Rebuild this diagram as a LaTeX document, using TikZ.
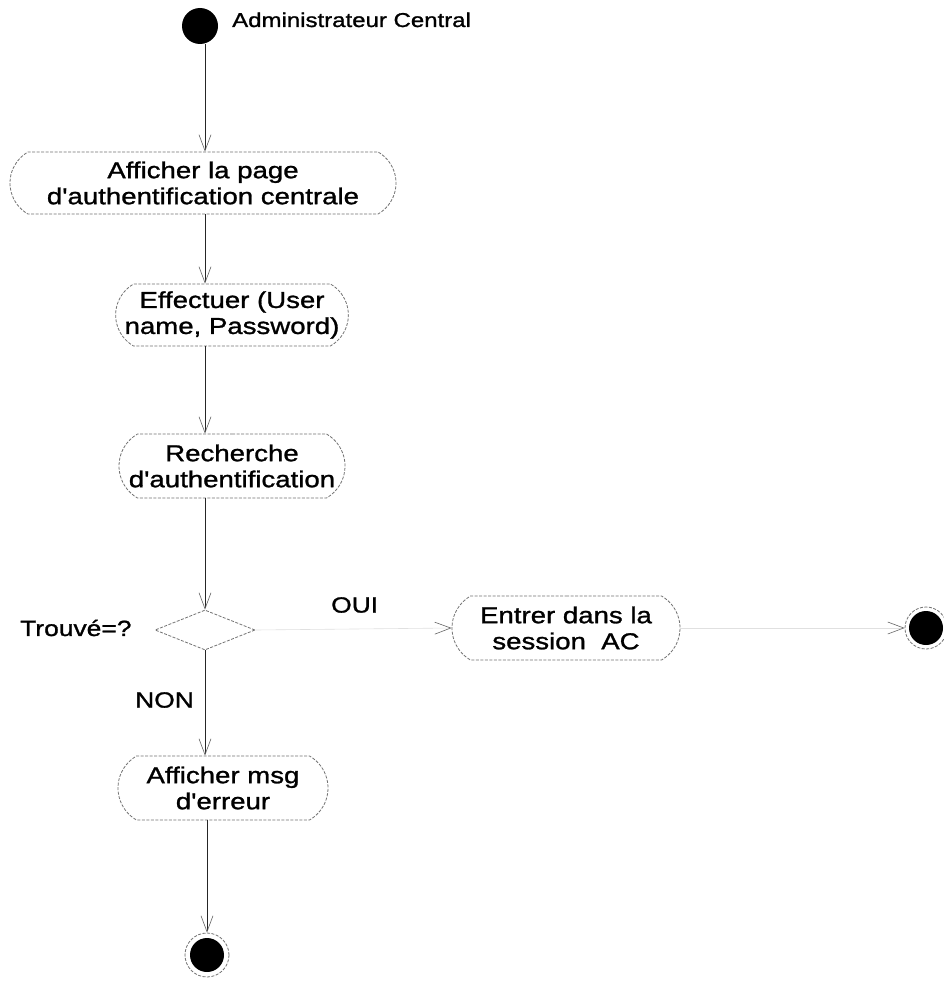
\documentclass[tikz,border=0pt]{standalone}
\usepackage{fontspec}
\setmainfont{Liberation Sans}[FakeStretch=1.2,FakeBold=1.2,Ligatures=TeXOff]
\usetikzlibrary{arrows.meta,shapes.misc,shapes.geometric}
\begin{document}
\begin{tikzpicture}[x=1pt,y=-1pt,
  act/.style={rounded rectangle, rounded rectangle arc length=120, draw=black!55,
    dash pattern=on 3pt off 1.5pt, line width=0.8pt, align=center, inner sep=0pt,
    font=\fontsize{23}{26}\selectfont, text=black},
  flow/.style={draw=black!85, line width=0.9pt,
    -{Straight Barb[length=16pt,width=12pt,line width=0.6pt,color=black!60]}},
  faint/.style={draw=black!12, line width=0.6pt,
    -{Straight Barb[length=16pt,width=12pt,line width=0.6pt,color=black!60]}},
  lbl/.style={font=\fontsize{22}{24}\selectfont, inner sep=0pt},
  finalst/.style={circle, draw=black!55, dash pattern=on 3pt off 1.5pt, line width=0.8pt,
    minimum size=42pt, inner sep=0pt}
]
\useasboundingbox (0,0) rectangle (943,990);
\fill[white] (0,0) rectangle (943,990);

\coordinate (vx) at (205,0);

% initial state
\node[circle, fill=black, minimum size=36pt, inner sep=0pt] (init) at (200,26) {};
\node[lbl, anchor=base west, font=\fontsize{20}{22}\selectfont] (actor) at (232,27) {Administrateur Central};

% activities
\node[act, minimum width=386pt, minimum height=62pt] (a1) at (203,183)
  {Afficher la page\\d'authentification centrale};
\node[act, minimum width=226pt, minimum height=62pt] (a2) at (232,315)
  {Effectuer (User\\name, Password)};
\node[act, minimum width=226pt, minimum height=64pt] (a3) at (232,466)
  {Recherche\\d'authentification};
\node[diamond, draw=black!55, dash pattern=on 3pt off 1.5pt, line width=0.8pt,
  minimum width=100pt, minimum height=40pt, inner sep=0pt, aspect=2.5] (dec) at (205,630) {};
\node[act, minimum width=228pt, minimum height=64pt] (a4) at (566,628)
  {Entrer dans la\\session~~AC};
\node[act, minimum width=210pt, minimum height=64pt] (a5) at (223,788)
  {Afficher msg\\d'erreur};

% final states
\node[finalst] (fin1) at (926,628) {};
\fill (fin1.center) circle (17pt);
\node[finalst, minimum size=44pt] (fin2) at (207,955) {};
\fill (fin2.center) circle (17pt);

% labels
\node[lbl, anchor=west] (trouve) at (20,628) {Trouvé=?};
\node[lbl, anchor=west] (oui) at (331,605) {OUI};
\node[lbl, anchor=west] (non) at (135,700) {NON};

% connectors
\draw[flow] (init.south -| vx) -- (a1.north -| vx);
\draw[flow] (a1.south -| vx) -- (a2.north -| vx);
\draw[flow] (a2.south -| vx) -- (a3.north -| vx);
\draw[flow] (a3.south -| vx) -- (dec.north);
\draw[faint] (dec.east) -- (a4.west);
\draw[faint] (a4.east) -- (fin1.west);
\draw[flow] (dec.south) -- (a5.north -| vx);
\draw[flow] (a5.south -| fin2.north) -- (fin2.north);
\end{tikzpicture}
\end{document}
